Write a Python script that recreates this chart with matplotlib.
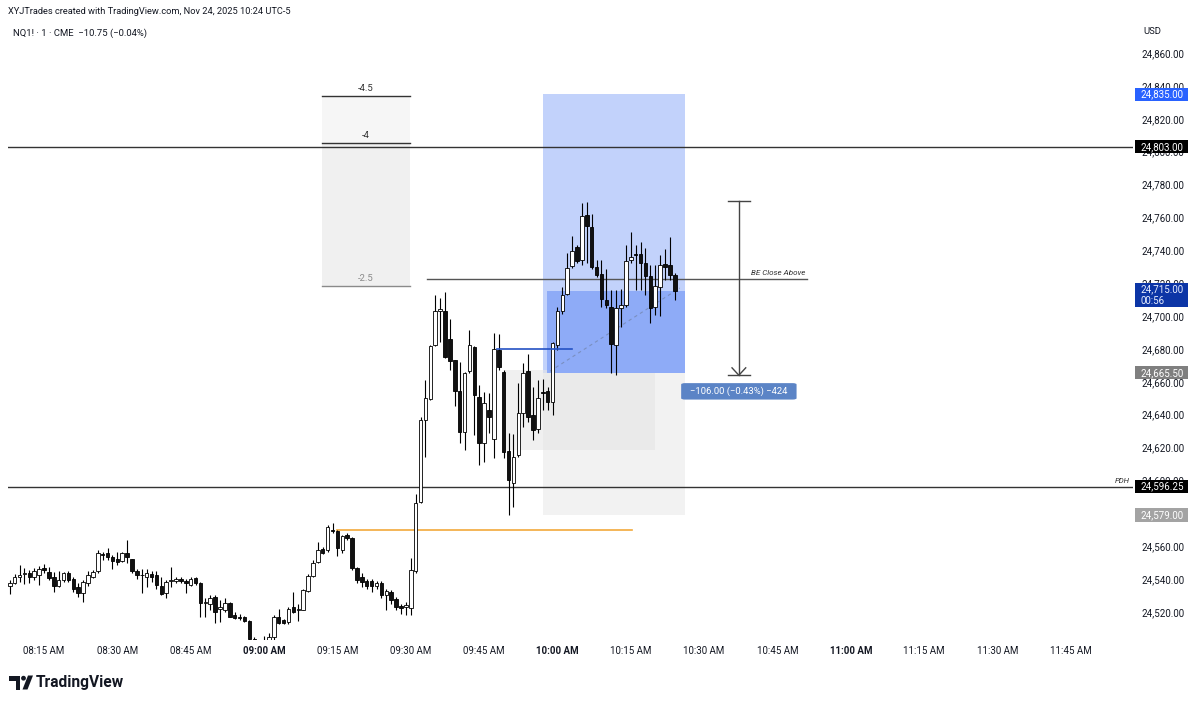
import numpy as np
import matplotlib
matplotlib.use("Agg")
import matplotlib.pyplot as plt
from matplotlib.patches import Rectangle, Polygon, Circle, FancyBboxPatch
import matplotlib.transforms as mtransforms

plt.rcParams['font.family'] = ['Roboto', 'DejaVu Sans']

# ---------------- data ----------------
first_bar_minute = 8          # first 1-minute bar = 08:08 (minutes after 08:00)
opens = [24535.75, 24537.5, 24541.5, 24543, 24544, 24541.5, 24542.5, 24546.5, 24544.25, 24541.5,
         24535.5, 24539.5, 24543.5, 24540, 24535, 24531.75, 24537.75, 24541.5, 24545, 24555.5,
         24555.75, 24553.25, 24552.5, 24551.25, 24556, 24552, 24545, 24542.5, 24541, 24543.25,
         24542.5, 24535.5, 24531.75, 24538.75, 24538.75, 24540, 24539, 24536.5, 24540.5, 24537.75,
         24525.25, 24525, 24529.25, 24522, 24521.5, 24525.5, 24518.25, 24517, 24517, 24514.75,
         24503.5, 24499, 24498, 24500, 24504.5, 24516.75, 24515, 24514, 24523, 24521,
         24521.5, 24533, 24541.75, 24550.5, 24558, 24557.75, 24570, 24569.5, 24557.75, 24567,
         24564.75, 24546.5, 24541.5, 24538.75, 24539, 24535.5, 24537.5, 24530.5, 24532.25, 24528,
         24523.75, 24523, 24522.5, 24545, 24587, 24636.5, 24649.5, 24682.5, 24703, 24703.25,
         24685.75, 24673, 24654.5, 24629.75, 24666.75, 24681, 24651, 24623, 24643, 24625,
         24679.25, 24666, 24618, 24598.5, 24615.5, 24641, 24666.75, 24639.75, 24631, 24653.75,
         24654.5, 24648, 24682.5, 24703.25, 24713.5, 24730.5, 24742.25, 24734.25, 24761.5, 24754,
         24729.75, 24725.5, 24709.75, 24705.75, 24682.5, 24704.75, 24706.75, 24734, 24737.75, 24737.75,
         24732, 24724.25, 24705.25, 24717.5, 24731.5, 24731, 24725]
highs = [24539.5, 24543, 24548.5, 24547, 24545.5, 24546.75, 24548, 24549, 24547.5, 24544.5,
         24545, 24544.5, 24545, 24541.5, 24537.5, 24539.5, 24545, 24545.5, 24557.75, 24556.5,
         24558.75, 24554.5, 24556.5, 24556.5, 24563.75, 24552, 24546.25, 24546.25, 24546.25, 24545,
         24545, 24541.5, 24539.5, 24547.5, 24541.5, 24541, 24540, 24541.5, 24541.25, 24538.5,
         24528.25, 24530.25, 24530.25, 24527, 24528.25, 24526.25, 24520, 24519, 24517.25, 24515,
         24505, 24501, 24505.5, 24507, 24518, 24522, 24516, 24523, 24532.25, 24525,
         24533.75, 24543.25, 24551.5, 24562.75, 24559.75, 24573, 24574, 24569.75, 24566.75, 24568.25,
         24565.5, 24547.5, 24543.5, 24540.25, 24540, 24539, 24539, 24534, 24533.5, 24529,
         24525, 24526, 24552.75, 24591.75, 24638.75, 24661, 24682.5, 24712.75, 24710.75, 24714.75,
         24698, 24673, 24672.25, 24666, 24691.5, 24681.5, 24658, 24654, 24653, 24689.5,
         24689, 24667.25, 24628.75, 24628, 24659, 24671.25, 24677, 24657, 24661, 24662,
         24657, 24684.5, 24705.5, 24717.75, 24738.25, 24748.75, 24743.25, 24769, 24769.5, 24762,
         24734, 24734, 24728.5, 24715.75, 24715.75, 24716.75, 24743.25, 24751.25, 24743.25, 24745.25,
         24741.25, 24731, 24731, 24737, 24740.5, 24748.25, 24726]
lows = [24531, 24537, 24538.5, 24537, 24537.5, 24539.5, 24536.5, 24543.75, 24539.5, 24532.25,
        24535, 24538.5, 24538.5, 24532.25, 24529.25, 24526.25, 24535.5, 24540.5, 24543.75, 24551.5,
        24551.5, 24546, 24548.5, 24550.5, 24549.5, 24543.5, 24540, 24531.75, 24535, 24538.5,
        24533.75, 24530.25, 24528.75, 24535, 24537.5, 24537.5, 24531.75, 24535.75, 24536.5, 24517,
        24516.75, 24521.25, 24513, 24514, 24520.25, 24516.75, 24515.5, 24515, 24514, 24503,
        24496, 24494, 24495, 24497, 24503, 24512.75, 24512.75, 24512.75, 24519.25, 24514.5,
        24521.25, 24532.25, 24541.5, 24549.5, 24555.25, 24556.75, 24568, 24553.75, 24556, 24563.75,
        24545.5, 24537.5, 24535, 24533.75, 24532, 24534, 24528.75, 24521, 24525, 24521.5,
        24519, 24518, 24518, 24544, 24586, 24614.5, 24649, 24681.75, 24684.5, 24674.25,
        24667.25, 24645, 24623, 24618.5, 24665.25, 24627.5, 24609.5, 24611.5, 24628.75, 24613.5,
        24667.25, 24613.5, 24579, 24584, 24614.5, 24632.75, 24635.75, 24624.5, 24628.75, 24642.75,
        24642.75, 24639.75, 24679.25, 24701.5, 24712.75, 24729, 24732, 24731, 24732, 24728.5,
        24724, 24705.75, 24704.75, 24665.25, 24664, 24693.5, 24705.75, 24732, 24715.75, 24715.75,
        24712.75, 24695.5, 24700.5, 24700, 24722, 24722, 24709.75]
closes = [24537.75, 24541, 24542.25, 24543.5, 24541.5, 24544.75, 24546, 24545.5, 24540.5, 24535.75,
          24539.5, 24543.5, 24539.5, 24533.75, 24531.75, 24538.5, 24542.5, 24544.5, 24555.75, 24554.5,
          24553.25, 24551.25, 24550.5, 24555.75, 24553.25, 24545, 24542.5, 24542.25, 24544, 24541.5,
          24536.5, 24531, 24538.5, 24539, 24540.25, 24538.75, 24537.75, 24540.25, 24537.5, 24525.25,
          24526, 24528.25, 24520.25, 24523, 24525.5, 24517, 24516.5, 24516.25, 24514.75, 24503.5,
          24499, 24497, 24501, 24504.5, 24517, 24513.5, 24513.5, 24522, 24520.25, 24522,
          24533.5, 24541.75, 24550, 24557.75, 24556, 24571.5, 24569.25, 24558.75, 24566.25, 24564.75,
          24546.5, 24539.5, 24538.5, 24536, 24535.5, 24537.5, 24530.25, 24532.5, 24527.25, 24523.25,
          24522.5, 24524, 24545.5, 24586, 24636.75, 24650, 24681.75, 24703.25, 24704, 24675,
          24672.75, 24654.5, 24629.75, 24665.25, 24682.5, 24652, 24623, 24647, 24638.75, 24679.75,
          24668.75, 24617.5, 24600.25, 24614.5, 24641, 24665.25, 24638.75, 24630.75, 24650, 24653.25,
          24648, 24683.5, 24703.25, 24712.75, 24729.5, 24739.75, 24733.75, 24761, 24754.75, 24729.75,
          24725, 24710.25, 24706.75, 24683, 24704.75, 24706.75, 24733.75, 24736, 24737.25, 24732,
          24724.25, 24704.75, 24718.25, 24731, 24729.75, 24725, 24715]

time_tick_minutes = [15, 30, 45, 60, 75, 90, 105, 120, 135, 150, 165, 180, 195, 210, 225]
time_tick_labels = ["08:15 AM", "08:30 AM", "08:45 AM", "09:00 AM", "09:15 AM", "09:30 AM",
                    "09:45 AM", "10:00 AM", "10:15 AM", "10:30 AM", "10:45 AM", "11:00 AM",
                    "11:15 AM", "11:30 AM", "11:45 AM"]
bold_time_labels = ["09:00 AM", "10:00 AM", "11:00 AM"]
price_ticks = [24520, 24540, 24560, 24580, 24600, 24620, 24640, 24660, 24680, 24700,
               24720, 24740, 24760, 24780, 24800, 24820, 24840, 24860]

level_803 = 24803.0
pdh_level = 24596.25
be_level = 24722.5
orange_level = 24570.0
blue_level = 24680.0
fib_levels = [24834.0, 24805.5, 24718.5]
fib_names = ["-4.5", "-4", "-2.5"]
target_price = 24835.0
entry_price = 24665.5
stop_price = 24579.0
last_price = 24715.0
measure_top = 24770.0
measure_bottom = 24664.0
measure_text = "\u2212106.00 (\u22120.43%) \u2212424"

axis_labels = [  # (price, text, face colour, text colour)
    (24835.0, "24,835.00", "#2962ff", "white"),
    (24803.0, "24,803.00", "#000000", "white"),
    (24665.5, "24,665.50", "#7f7f7f", "white"),
    (24596.25, "24,596.25", "#000000", "white"),
    (24579.0, "24,579.00", "#a3a3a3", "white"),
]

# ---------------- figure ----------------
W, H = 1200, 704
fig = plt.figure(figsize=(W / 100, H / 100), dpi=100)
fig.patch.set_facecolor("white")
ax = fig.add_axes([8 / W, (H - 640) / H, 1125 / W, (640 - 42) / H])
ax.set_xlim(7.64, 237.7)
ax.set_ylim(24502.95, 24866.7)
for s in ax.spines.values():
    s.set_visible(False)

o = np.array(opens); h = np.array(highs); l = np.array(lows); c = np.array(closes)
x = first_bar_minute + np.arange(len(o))
up = c >= o

# fib box
fx0, fx1 = 71.85, 89.85
ax.add_patch(Rectangle((fx0, fib_levels[1]), fx1 - fx0, fib_levels[0] - fib_levels[1],
                       facecolor="#f6f6f6", edgecolor="none", zorder=0))
ax.add_patch(Rectangle((fx0, fib_levels[2]), fx1 - fx0, fib_levels[1] - fib_levels[2],
                       facecolor="#f0f0f0", edgecolor="none", zorder=0))
for lv, nm, col in zip(fib_levels, fib_names, ["#333333", "#333333", "#8a8a8a"]):
    ax.plot([fx0, fx1], [lv, lv], color=col, lw=1.0, zorder=1)
    ax.text((fx0 + fx1) / 2, lv + 1.8, nm, ha="center", va="bottom", fontsize=6.8, color=col, zorder=1)

# position tool
px0, px1 = 117.0, 146.1
ax.add_patch(Rectangle((px0, entry_price), px1 - px0, target_price - entry_price,
                       facecolor="#c2d2fb", edgecolor="none", zorder=0))
ax.add_patch(Rectangle((px0 + 0.9, entry_price), px1 - px0 - 0.9, last_price - entry_price,
                       facecolor="#8eabf7", edgecolor="none", zorder=0.5))
ax.add_patch(Rectangle((px0, stop_price), px1 - px0, entry_price - stop_price,
                       facecolor="#f2f2f2", edgecolor="none", zorder=0))
ax.add_patch(Rectangle((109.3, 24618.5), 139.9 - 109.3, 24667.0 - 24618.5,
                       facecolor="#e6e6e6", edgecolor="none", alpha=0.6, zorder=0.2))
ax.plot([px0 + 1.5, 145.0], [entry_price + 1, last_price + 2], color="#7a8fc0",
        lw=0.8, ls=(0, (3, 3)), zorder=1)

# horizontal lines
ax.axhline(level_803, color="#333333", lw=1.0, zorder=1)
ax.axhline(pdh_level, color="#333333", lw=1.0, zorder=1)
ax.plot([93.3, 171.0], [be_level, be_level], color="#555555", lw=1.0, zorder=1)
ax.text(170.8, be_level + 2.0, "BE Close Above", ha="right", va="bottom", fontsize=5.8,
        style="italic", color="#333333")
ax.text(237.0, pdh_level + 1.5, "PDH", ha="right", va="bottom", fontsize=5.6,
        style="italic", color="#333333")
ax.plot([74.9, 135.2], [orange_level, orange_level], color="#f2a93b", lw=1.2, zorder=1)
ax.plot([107.6, 123.0], [blue_level, blue_level], color="#2452c4", lw=1.2, zorder=4)

# candles
ax.vlines(x, l, h, color="#000000", lw=0.8, zorder=2)
body_bottom = np.minimum(o, c)
body_h = np.maximum(np.abs(c - o), 0.5)
ax.bar(x, body_h, bottom=body_bottom, width=0.72,
       color=np.where(up, "white", "#111111"), edgecolor="#000000", linewidth=0.6, zorder=3)

# measure tool
mx = 157.1
ax.plot([mx, mx], [measure_bottom, measure_top], color="#444444", lw=1.0, zorder=4)
ax.plot([mx - 2.25, mx + 2.25], [measure_top, measure_top], color="#444444", lw=1.0, zorder=4)
ax.plot([mx - 2.25, mx + 2.25], [measure_bottom, measure_bottom], color="#444444", lw=1.0, zorder=4)
ax.plot([mx - 1.4, mx, mx + 1.4], [measure_bottom + 4.5, measure_bottom, measure_bottom + 4.5],
        color="#444444", lw=1.0, zorder=4)
ax.add_patch(FancyBboxPatch((145.3, 24649.2), 23.6, 10.0, boxstyle="round,pad=0,rounding_size=0.8",
                            facecolor="#5b84c6", edgecolor="none", zorder=5, mutation_aspect=1.0))
ax.text(157.1, 24654.2, measure_text, ha="center", va="center", fontsize=6.8, color="white", zorder=6)

# axes ticks
ax.set_xticks(time_tick_minutes)
ax.set_xticklabels(time_tick_labels)
ax.tick_params(axis="x", length=0, pad=4.2, labelsize=7, colors="#131722")
for t in ax.get_xticklabels():
    if t.get_text() in bold_time_labels:
        t.set_fontweight("bold")
ax.yaxis.tick_right()
ax.set_yticks(price_ticks)
ax.set_yticklabels([f"{p:,.2f}" for p in price_ticks])
ax.tick_params(axis="y", length=0, pad=6.0, labelsize=7, colors="#131722")

# price-axis labels
trans = mtransforms.blended_transform_factory(ax.transAxes, ax.transData)
for p, txt, fc, tc in axis_labels:
    ax.add_patch(Rectangle((1.0018, p - 4.0), 0.047, 8.0, transform=trans, clip_on=False,
                           facecolor=fc, edgecolor="none", zorder=6))
    ax.text(1.0069, p, txt, transform=trans, ha="left", va="center", fontsize=7,
            color=tc, zorder=7, clip_on=False)
ax.add_patch(Rectangle((1.0018, 24705.4), 0.047, 15.0, transform=trans, clip_on=False,
                       facecolor="#0c35a6", edgecolor="none", zorder=6))
ax.text(1.0069, 24716.4, f"{last_price:,.2f}", transform=trans, ha="left", va="center",
        fontsize=7, color="#e8eeff", zorder=7, clip_on=False)
ax.text(1.0069, 24709.0, "00:56", transform=trans, ha="left", va="center",
        fontsize=7, color="#e8eeff", zorder=7, clip_on=False)

# header / footer
fig.text(8 / W, 1 - 12 / H, "XYJTrades created with TradingView.com, Nov 24, 2025 10:24 UTC-5",
         ha="left", va="center", fontsize=6.7, color="#131722")
fig.text(13 / W, 1 - 33 / H, "NQ1! \u00b7 1 \u00b7 CME  \u221210.75 (\u22120.04%)",
         ha="left", va="center", fontsize=6.8, color="#131722")
fig.text(1143 / W, 1 - 31 / H, "USD", ha="left", va="center", fontsize=6.8, color="#131722")

ov = fig.add_axes([0, 0, 1, 1], zorder=10)
ov.set_xlim(0, W)
ov.set_ylim(H, 0)
ov.axis("off")
ov.patch.set_alpha(0)
ov.add_patch(Polygon([[9, 675.5], [20, 675.5], [20, 689.5], [15.5, 689.5], [15.5, 680.5], [9, 680.5]],
                     closed=True, facecolor="#131722", edgecolor="none"))
ov.add_patch(Circle((23.5, 678.2), 2.4, facecolor="#131722", edgecolor="none"))
ov.add_patch(Polygon([[22.5, 689.5], [28, 675.5], [33, 675.5], [27.5, 689.5]], closed=True,
                     facecolor="#131722", edgecolor="none"))
ov.text(36, 682.5, "TradingView", ha="left", va="center", fontsize=11.2,
        fontweight="bold", color="#131722")

fig.savefig("out.png", dpi=100, facecolor="white")
